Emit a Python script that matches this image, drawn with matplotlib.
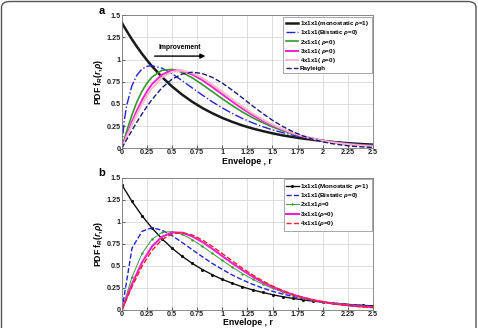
import matplotlib
matplotlib.use("Agg")
import matplotlib.pyplot as plt
from matplotlib.patches import FancyBboxPatch
import numpy as np

plt.rcParams['font.family'] = ['Liberation Sans', 'DejaVu Sans']
plt.rcParams['font.weight'] = 'bold'
plt.rcParams['mathtext.fontset'] = 'custom'
plt.rcParams['mathtext.rm'] = 'Liberation Sans:bold'
plt.rcParams['mathtext.it'] = 'Liberation Sans:italic:bold'

# Envelope r (sample points)
r = [0, 0.025, 0.05, 0.1, 0.15, 0.2, 0.25, 0.3, 0.4, 0.5, 0.6, 0.7, 0.8, 0.9, 1.0,
     1.1, 1.2, 1.3, 1.4, 1.5, 1.6, 1.7, 1.8, 1.9, 2.0, 2.1, 2.2, 2.3, 2.4, 2.5]

# 1x1x1 monostatic (rho = 1)
mono = [1.42, 1.370, 1.323, 1.232, 1.148, 1.069, 0.996, 0.927, 0.805, 0.698, 0.606,
        0.526, 0.456, 0.396, 0.343, 0.298, 0.258, 0.224, 0.195, 0.169, 0.146, 0.127,
        0.110, 0.096, 0.083, 0.072, 0.062, 0.054, 0.047, 0.041]
# 1x1x1 bistatic (rho = 0)
bist = [0, 0.311, 0.485, 0.701, 0.823, 0.892, 0.924, 0.933, 0.904, 0.842, 0.764,
        0.682, 0.602, 0.525, 0.456, 0.393, 0.337, 0.288, 0.245, 0.208, 0.177, 0.149,
        0.126, 0.106, 0.089, 0.075, 0.063, 0.053, 0.044, 0.037]
# 2x1x1 (rho = 0)
n2 = [0, 0.099, 0.195, 0.370, 0.520, 0.640, 0.733, 0.802, 0.880, 0.889, 0.857,
      0.796, 0.721, 0.640, 0.559, 0.482, 0.410, 0.346, 0.290, 0.241, 0.199, 0.164,
      0.134, 0.110, 0.089, 0.072, 0.058, 0.047, 0.037, 0.030]
# 3x1x1 (rho = 0)
n3 = [0, 0.075, 0.149, 0.292, 0.423, 0.539, 0.639, 0.722, 0.831, 0.879, 0.876,
      0.834, 0.770, 0.692, 0.609, 0.526, 0.448, 0.376, 0.312, 0.257, 0.210, 0.170,
      0.137, 0.109, 0.087, 0.068, 0.054, 0.042, 0.033, 0.026]
# 4x1x1 (rho = 0)
n4 = [0, 0.066, 0.133, 0.261, 0.383, 0.494, 0.592, 0.676, 0.799, 0.863, 0.877,
      0.850, 0.794, 0.720, 0.637, 0.553, 0.471, 0.395, 0.327, 0.267, 0.216, 0.173,
      0.138, 0.108, 0.085, 0.066, 0.051, 0.039, 0.030, 0.023]
# Rayleigh
rayl = [0, 0.050, 0.100, 0.198, 0.293, 0.384, 0.470, 0.548, 0.682, 0.779, 0.837,
        0.858, 0.844, 0.801, 0.736, 0.656, 0.569, 0.480, 0.395, 0.316, 0.247, 0.189,
        0.141, 0.103, 0.073, 0.051, 0.035, 0.023, 0.015, 0.010]

labels_a = ['1x1x1(monostatic $\\rho$=1)', '1x1x1(Bistatic $\\rho$=0)', '2x1x1( $\\rho$=0)',
            '3x1x1( $\\rho$=0)', '4x1x1( $\\rho$=0)', 'Rayleigh']
labels_b = ['1x1x1(Monostatic $\\rho$=1)', '1x1x1(Bistatic $\\rho$=0)', '2x1x1$\\rho$=0',
            '3x1x1($\\rho$=0)', '4x1x1($\\rho$=0)']
ticks = [0, 0.25, 0.5, 0.75, 1, 1.25, 1.5, 1.75, 2, 2.25, 2.5]
tick_labels = ['0', '0.25', '0.5', '0.75', '1', '1.25', '1.5', '1.75', '2', '2.25', '2.5']
yticks = [0, 0.25, 0.5, 0.75, 1, 1.25, 1.5]
ytick_labels = ['0', '0.25', '0.5', '0.75', '1', '1.25', '1.5']

W, H = 478, 328
fig = plt.figure(figsize=(W / 100, H / 100), dpi=100)

# rounded frame (bottom edge falls outside the picture)
frame = FancyBboxPatch((1.5 / W, -0.05), 1 - 3.5 / W, 1.05 - 1.5 / H,
                       boxstyle="round,pad=0,rounding_size=0.018",
                       transform=fig.transFigure, fill=False, ec='#555555', lw=1.0)
fig.patches.append(frame)

ax_a = fig.add_axes([121.7 / W, 1 - 148.3 / H, (373 - 121.7) / W, (148.3 - 15.3) / H])
ax_b = fig.add_axes([122 / W, 1 - 309.5 / H, (373 - 122) / W, (309.5 - 178) / H])


def style(ax):
    ax.set_xlim(0, 2.5)
    ax.set_ylim(0, 1.5)
    ax.set_xticks(ticks)
    ax.set_xticklabels(tick_labels, fontsize=5.2, fontweight='bold')
    ax.set_yticks(yticks)
    ax.set_yticklabels(ytick_labels, fontsize=5.2, fontweight='bold')
    ax.tick_params(direction='in', length=2, width=0.5, pad=0.8, colors='#222222')
    ax.grid(True, color='#d9d9d9', lw=0.6)
    ax.set_axisbelow(True)
    for s in ax.spines.values():
        s.set_color('#777777')
        s.set_linewidth(0.6)
    ax.set_xlabel('Envelope , r', fontsize=6.3, fontweight='bold', labelpad=0.3)
    ax.set_ylabel('PDF f$_{R}$($r$,$\\rho$)', fontsize=6.3, fontweight='bold', labelpad=1)


# panel a
style(ax_a)
ax_a.plot(r, mono, color='#1a1a1a', lw=1.8, label=labels_a[0])
ax_a.plot(r, bist, color='#2222dd', lw=1.0, ls='-.', label=labels_a[1])
ax_a.plot(r, n2, color='#2e9a2e', lw=1.2, label=labels_a[2])
ax_a.plot(r, n3, color='#ee22cc', lw=1.4, label=labels_a[3])
ax_a.plot(r, n4, color='#ffb8cc', lw=1.4, label=labels_a[4])
ax_a.plot(r, rayl, color='#1a1a7a', lw=1.0, ls='--', label=labels_a[5])
ax_a.annotate('', xy=(0.86, 1.04), xytext=(0.30, 1.04),
              arrowprops=dict(arrowstyle='-|>', color='black', lw=1.0, mutation_scale=7))
ax_a.text(0.58, 1.14, 'Improvement', fontsize=4.9, fontweight='bold', ha='center', va='center')
leg_a = ax_a.legend(loc='upper right', fontsize=4.5, handlelength=2.0, handletextpad=0.3,
                    labelspacing=0.05, borderpad=0.4, borderaxespad=0.2, frameon=True,
                    fancybox=False, edgecolor='#999999', framealpha=1)
leg_a.get_frame().set_linewidth(0.6)

# panel b (every 0.1 sample)
idx = [i for i, v in enumerate(r) if abs(v * 10 - round(v * 10)) < 1e-9]
rb = [r[i] for i in idx]
style(ax_b)
ax_b.plot(rb, [mono[i] for i in idx], color='#111111', lw=1.0, marker='.', ms=2.5,
          label=labels_b[0])
ax_b.plot(rb, [bist[i] for i in idx], color='#2222dd', lw=1.0, ls='--', label=labels_b[1])
ax_b.plot(rb, [n2[i] for i in idx], color='#3a9a3a', lw=0.7, marker='+', ms=2,
          label=labels_b[2])
ax_b.plot(rb, [n3[i] for i in idx], color='#ee22cc', lw=1.5, label=labels_b[3])
ax_b.plot(rb, [n4[i] for i in idx], color='#ee2222', lw=1.0, ls='--', label=labels_b[4])
leg_b = ax_b.legend(loc='upper right', fontsize=4.5, handlelength=2.0, handletextpad=0.3,
                    labelspacing=0.05, borderpad=0.4, borderaxespad=0.2, frameon=True,
                    fancybox=False, edgecolor='#999999', framealpha=1)
leg_b.get_frame().set_linewidth(0.6)

fig.text(102 / W, 1 - 11 / H, 'a', fontsize=8, fontweight='bold', ha='center', va='center')
fig.text(102 / W, 1 - 173 / H, 'b', fontsize=8, fontweight='bold', ha='center', va='center')

fig.savefig('out.png', dpi=100)
